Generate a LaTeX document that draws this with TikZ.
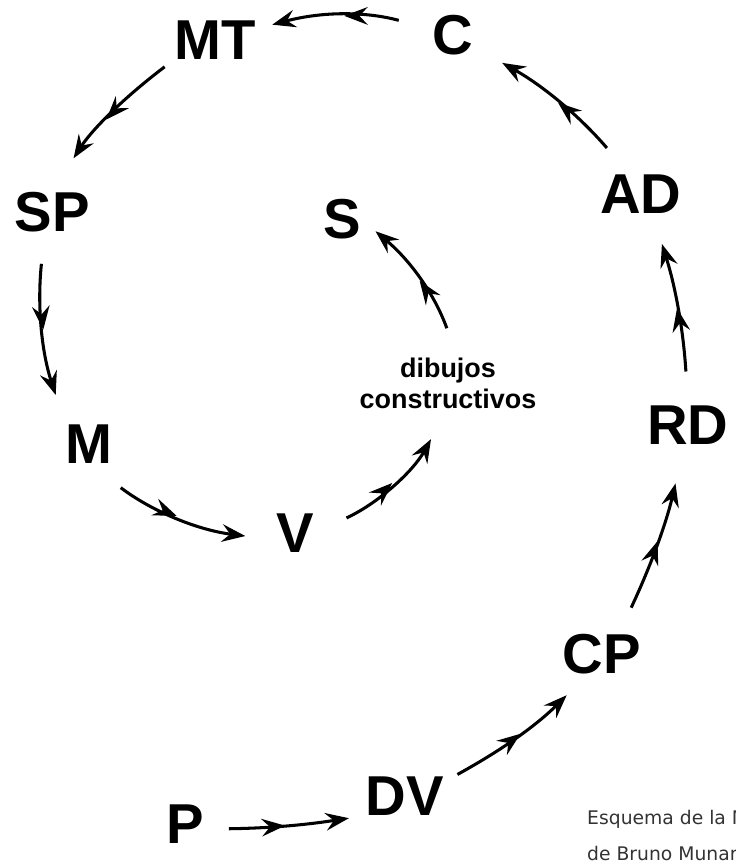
\documentclass[tikz,border=0pt]{standalone}
\usepackage{fontspec}
\setmainfont{Liberation Sans}
\newfontfamily\notefont{DejaVu Sans}
\usepackage{tikz}
\usetikzlibrary{arrows.meta,decorations.markings}
\definecolor{note}{HTML}{333333}

\begin{document}
\begin{tikzpicture}[x=0.03cm, y=0.03cm,
  stage/.style={font=\fontsize{48}{48}\selectfont\bfseries, inner sep=0pt},
  flow/.style={line width=2.6pt, -{Stealth[length=20pt, width=15pt, inset=7pt]},
    postaction={decorate},
    decoration={markings, mark=at position 0.5 with {\arrow{Stealth[length=20pt, width=15pt, inset=7pt]}}}}]
\useasboundingbox (0,0) rectangle (736,861);
\clip (0,0) rectangle (736,861);
\node[stage] (P) at (185,37) {P};
\node[stage] (DV) at (405,65) {DV};
\node[stage] (CP) at (602,207) {CP};
\node[stage] (RD) at (688,436) {RD};
\node[stage] (AD) at (641,667) {AD};
\node[stage] (C) at (453,826) {C};
\node[stage] (MT) at (215,821) {MT};
\node[stage] (SP) at (52,649) {SP};
\node[stage] (M) at (89,417) {M};
\node[stage] (V) at (295,328) {V};
\node[font=\fontsize{23}{26.5}\selectfont\bfseries, align=center, inner sep=0pt] (dib) at (448,478) {dibujos\\constructivos};
\node[stage] (S) at (342,642) {S};
\node[font=\notefont\fontsize{16}{16}\selectfont, text=note, anchor=base west, inner sep=0pt] (note1) at (587,36) {Esquema de la Metodología proyectual};
\node[font=\notefont\fontsize{16}{16}\selectfont, text=note, anchor=base west, inner sep=0pt] (note2) at (587,1) {de Bruno Munari};
\draw[flow, shorten <=21.3pt, shorten >=14.5pt] (P.345) to[bend right=4] (DV.south west);
\draw[flow, shorten <=12.8pt, shorten >=25.5pt] (DV.20) to[bend right=8] (CP.235);
\draw[flow, shorten <=24.7pt, shorten >=34pt] (CP.50) to[bend right=6] (RD.260);
\draw[flow, shorten <=29pt, shorten >=27.2pt] (RD.north) to[bend right=7] (AD.300);
\draw[flow, shorten <=29.8pt, shorten >=28pt] (AD.120) to[bend right=10] (C.330);
\draw[flow, shorten <=29.8pt, shorten >=14.5pt] (C.165) to[bend right=15] (MT.15);
\draw[flow, shorten <=10.2pt, shorten >=34pt] (MT.south west) to[bend right=10] (SP.north);
\draw[flow, shorten <=27.2pt, shorten >=26.4pt] (SP.250) to[bend right=12] (M.north west);
\draw[flow, shorten <=34pt, shorten >=26.4pt] (M.south) to[bend right=15] (V.200);
\draw[flow, shorten <=30.6pt, shorten >=29.8pt] (V.east) to[bend right=18] (dib.south);
\draw[flow, shorten <=26.4pt, shorten >=16.2pt] (dib.70) to[bend right=15] (S.east);
\end{tikzpicture}
\end{document}
